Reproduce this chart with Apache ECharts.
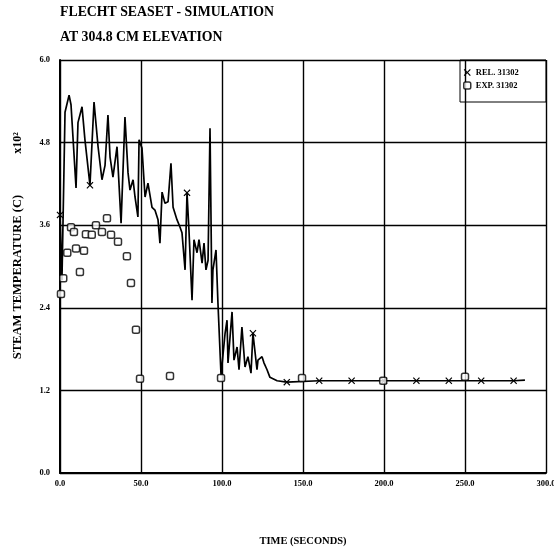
<!DOCTYPE html>
<html>
<head>
<meta charset="utf-8">
<script src="https://cdn.jsdelivr.net/npm/echarts@6/dist/echarts.min.js"></script>
<style>
html, body { margin: 0; padding: 0; background: #fff; }
#chart { width: 554px; height: 548px; }
</style>
</head>
<body>
<div id="chart"></div>
<script>
// Chart text
const titleLines = ['FLECHT SEASET - SIMULATION', 'AT 304.8 CM ELEVATION'];
const xAxisTitle = 'TIME (SECONDS)';
const yAxisTitle = 'STEAM TEMPERATURE (C)';
const yScaleNote = 'x10²';
const seriesNames = ['REL. 31302', 'EXP. 31302'];

// Axis ticks (temperature in units of 10^2 C)
const xTicks = [0, 50, 100, 150, 200, 250, 300];
const yTicks = [0, 1.2, 2.4, 3.6, 4.8, 6.0];

// RELAP calculation: time (s) and steam temperature (x10^2 C)
const relTime = [0, 1.2, 3.1, 5.6, 6.8, 9.9, 11.1, 13.6, 15.4, 18.5,
  21.0, 23.5, 25.9, 27.8, 29.6, 30.9, 32.7, 35.2, 37.7, 40.1,
  42.0, 43.2, 45.1, 46.3, 48.1, 48.8, 50.6, 52.5, 54.3, 56.8,
  58.6, 60.5, 61.7, 63.0, 64.8, 66.7, 68.5, 69.8, 72.2, 74.1,
  75.3, 77.2, 78.4, 79.6, 81.5, 82.7, 84.6, 85.8, 87.7, 88.9,
  90.1, 91.4, 92.6, 93.8, 94.4, 96.3, 97.5, 99.4, 101.9, 103.1,
  103.7, 106.2, 107.4, 109.3, 110.5, 112.3, 114.2, 116.0, 117.9, 119.1,
  121.6, 122.2, 124.7, 125.9, 127.8, 129.6, 134.0, 140, 160, 180,
  200, 220, 240, 260, 280, 287];
const relTemp = [3.75, 2.80, 5.24, 5.49, 5.35, 4.14, 5.09, 5.32, 4.84, 4.18,
  5.39, 4.74, 4.26, 4.47, 5.20, 4.59, 4.30, 4.74, 3.63, 5.17,
  4.36, 4.11, 4.26, 4.01, 3.72, 4.84, 4.72, 4.01, 4.21, 3.86,
  3.82, 3.68, 3.34, 4.08, 3.92, 3.94, 4.50, 3.86, 3.68, 3.57,
  3.49, 2.95, 4.07, 3.53, 2.51, 3.39, 3.20, 3.39, 3.05, 3.34,
  2.95, 3.09, 5.01, 2.47, 2.95, 3.24, 2.47, 1.42, 2.03, 2.22,
  1.60, 2.34, 1.64, 1.83, 1.50, 2.12, 1.54, 1.69, 1.45, 2.03,
  1.50, 1.64, 1.69, 1.60, 1.50, 1.39, 1.34, 1.32, 1.34, 1.34,
  1.34, 1.34, 1.34, 1.34, 1.34, 1.35];
// Times at which the calculated curve carries a plot symbol
const relMarkTimes = [0, 18.5, 78.4, 119.1, 140, 160, 180, 200, 220, 240, 260, 280];

// Experiment 31302: time (s) and steam temperature (x10^2 C)
const expTime = [0.6, 2.0, 4.5, 6.8, 8.6, 9.9, 12.3, 14.8, 16.0, 19.6,
  22.2, 25.9, 29.0, 31.5, 35.8, 41.3, 43.8, 46.9, 49.4, 67.9,
  99.4, 149.4, 199.5, 250.0];
const expTemp = [2.60, 2.83, 3.20, 3.57, 3.50, 3.26, 2.92, 3.23, 3.47, 3.46,
  3.60, 3.50, 3.70, 3.46, 3.36, 3.15, 2.76, 2.08, 1.37, 1.41,
  1.38, 1.38, 1.34, 1.40];

const FONT = '"Liberation Serif", "DejaVu Serif", serif';
const CROSS = 'path://M0,1.2L1.2,0L5,3.8L8.8,0L10,1.2L6.2,5L10,8.8L8.8,10L5,6.2L1.2,10L0,8.8L3.8,5Z';

const relData = relTime.map((t, i) => {
  const marked = relMarkTimes.indexOf(t) >= 0;
  return { value: [t, relTemp[i]], symbol: marked ? CROSS : 'none', symbolSize: 7 };
});
const expData = expTime.map((t, i) => [t, expTemp[i]]);

const chart = echarts.init(document.getElementById('chart'), null, { renderer: 'canvas' });

chart.setOption({
  backgroundColor: '#fff',
  animation: false,
  title: {
    text: titleLines.join('\n'),
    left: 55,
    top: -5,
    textStyle: { fontFamily: FONT, fontWeight: 'bold', fontSize: 13.8, lineHeight: 25, color: '#000' }
  },
  legend: {
    orient: 'vertical',
    left: 458,
    top: 63,
    itemWidth: 7,
    itemHeight: 7,
    itemGap: 4,
    textStyle: { fontFamily: FONT, fontWeight: 'bold', fontSize: 8.5, color: '#000' },
    data: [
      { name: seriesNames[0], icon: CROSS, itemStyle: { color: '#000' } },
      { name: seriesNames[1], icon: 'roundRect', itemStyle: { color: '#fff', borderColor: '#000', borderWidth: 1.5 } }
    ]
  },
  graphic: [
    { type: 'rect', shape: { x: 460, y: 60, width: 86, height: 42 },
      style: { fill: 'none', stroke: '#000', lineWidth: 1 }, silent: true },
    { type: 'text', x: 18, y: 143, rotation: Math.PI / 2,
      style: { text: yScaleNote, fontFamily: FONT, fontWeight: 'bold', fontSize: 12,
               fill: '#000', align: 'center', verticalAlign: 'middle' } },
    { type: 'text', x: 18, y: 277, rotation: Math.PI / 2,
      style: { text: yAxisTitle, fontFamily: FONT, fontWeight: 'bold', fontSize: 12.5,
               fill: '#000', align: 'center', verticalAlign: 'middle' } }
  ],
  grid: { left: 60, right: 8, top: 60, bottom: 75, containLabel: false, outerBoundsMode: 'none' },
  xAxis: {
    type: 'value',
    min: xTicks[0],
    max: xTicks[xTicks.length - 1],
    interval: xTicks[1] - xTicks[0],
    name: xAxisTitle,
    nameLocation: 'middle',
    nameGap: 63,
    nameTextStyle: { fontFamily: FONT, fontWeight: 'bold', fontSize: 10.5, color: '#000' },
    axisLine: { show: true, lineStyle: { color: '#000', width: 2 } },
    axisTick: { show: false },
    axisLabel: { margin: 6, fontFamily: FONT, fontWeight: 'bold', fontSize: 8.5, color: '#000',
                 formatter: v => v.toFixed(1) },
    splitLine: { show: true, lineStyle: { color: '#000', width: 1.4 } }
  },
  yAxis: {
    type: 'value',
    min: yTicks[0],
    max: yTicks[yTicks.length - 1],
    interval: yTicks[1] - yTicks[0],
    axisLine: { show: true, lineStyle: { color: '#000', width: 2 } },
    axisTick: { show: false },
    axisLabel: { margin: 10, fontFamily: FONT, fontWeight: 'bold', fontSize: 8.5, color: '#000',
                 formatter: v => v.toFixed(1) },
    splitLine: { show: true, lineStyle: { color: '#000', width: 1.4 } }
  },
  series: [
    {
      name: seriesNames[0],
      type: 'line',
      data: relData,
      showAllSymbol: true,
      lineStyle: { color: '#000', width: 1.7 },
      itemStyle: { color: '#000' },
      z: 3
    },
    {
      name: seriesNames[1],
      type: 'scatter',
      data: expData,
      symbol: 'roundRect',
      symbolSize: 7,
      itemStyle: { color: '#fff', borderColor: '#000', borderWidth: 1.5 },
      z: 4
    }
  ]
});
</script>
</body>
</html>
